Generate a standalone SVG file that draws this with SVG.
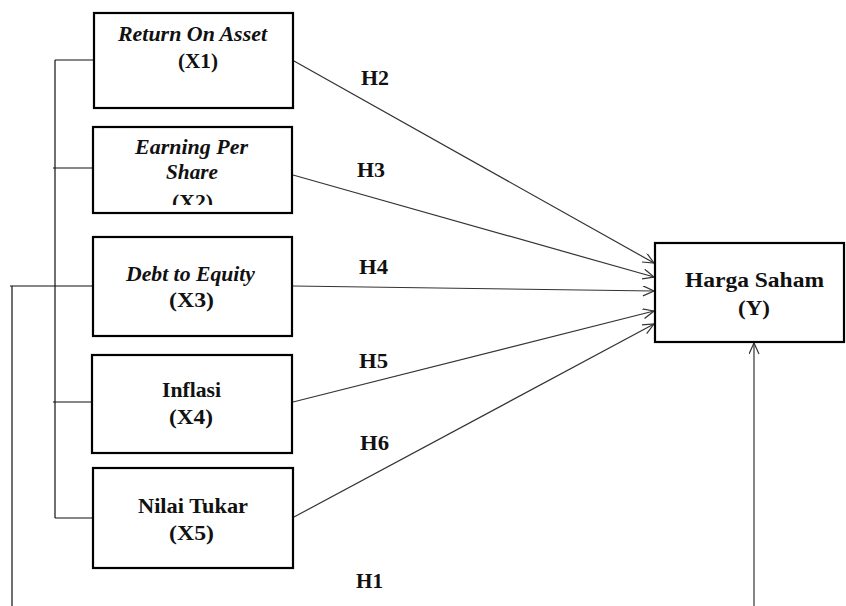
<svg xmlns="http://www.w3.org/2000/svg" width="846" height="606" viewBox="0 0 846 606">
<style>
.box{fill:#fff;stroke:#000;stroke-width:2.2}
.t{font-family:"Liberation Serif","Times New Roman",serif;font-weight:bold;font-size:20px;fill:#111;text-anchor:middle}
.i{font-style:italic}
.h{font-family:"Liberation Serif","Times New Roman",serif;font-weight:bold;font-size:21px;fill:#111}
.br{fill:none;stroke:#111;stroke-width:1.2}
.ar{fill:none;stroke:#333;stroke-width:1.2}
</style>
<defs>
<marker id="arr" markerUnits="userSpaceOnUse" markerWidth="14" markerHeight="12" refX="12" refY="5" orient="auto">
<path d="M1,0 L12,5 L1,10" fill="none" stroke="#333" stroke-width="1.2"/>
</marker>
<clipPath id="c2"><rect x="93" y="127" width="199" height="78"/></clipPath>
</defs>
<rect width="846" height="606" fill="#fff"/>
<g id="connectors">
<path class="br" d="M55,60 V518 M55,60 H93 M53,168 H92 M53,402 H92 M55,518 H92 M10,286 H92 M12,286 V606"/>
<line class="ar" x1="754" y1="606" x2="754" y2="343" marker-end="url(#arr)"/>
<line class="ar" x1="294" y1="61" x2="654" y2="263" marker-end="url(#arr)"/>
<line class="ar" x1="293" y1="175" x2="654" y2="277" marker-end="url(#arr)"/>
<line class="ar" x1="293" y1="286" x2="654" y2="291" marker-end="url(#arr)"/>
<line class="ar" x1="293" y1="402" x2="654" y2="311" marker-end="url(#arr)"/>
<line class="ar" x1="294" y1="517" x2="654" y2="324" marker-end="url(#arr)"/>
<text class="h" x="361" y="85" textLength="28" lengthAdjust="spacingAndGlyphs">H2</text>
<text class="h" x="357" y="177" textLength="28" lengthAdjust="spacingAndGlyphs">H3</text>
<text class="h" x="359" y="274" textLength="29" lengthAdjust="spacingAndGlyphs">H4</text>
<text class="h" x="359" y="368" textLength="29" lengthAdjust="spacingAndGlyphs">H5</text>
<text class="h" x="360" y="450" textLength="29" lengthAdjust="spacingAndGlyphs">H6</text>
<text class="h" x="356" y="588" textLength="27" lengthAdjust="spacingAndGlyphs">H1</text>
</g>
<g id="x1">
<rect class="box" x="94" y="13" width="199" height="95"/>
<text class="t i" x="192.5" y="41" textLength="149" lengthAdjust="spacingAndGlyphs">Return On Asset</text>
<text class="t" x="198" y="68" textLength="40" lengthAdjust="spacingAndGlyphs">(X1)</text>
</g>
<g id="x2">
<rect class="box" x="93" y="127" width="199" height="86"/>
<text class="t i" x="191.5" y="154" textLength="113" lengthAdjust="spacingAndGlyphs">Earning Per</text>
<text class="t i" x="192" y="179" textLength="52" lengthAdjust="spacingAndGlyphs">Share</text>
<text class="t" x="192.5" y="209" textLength="41" lengthAdjust="spacingAndGlyphs" clip-path="url(#c2)">(X2)</text>
</g>
<g id="x3">
<rect class="box" x="93" y="237" width="199" height="99"/>
<text class="t i" x="190.5" y="281" textLength="129" lengthAdjust="spacingAndGlyphs">Debt to Equity</text>
<text class="t" x="191.5" y="307" textLength="45" lengthAdjust="spacingAndGlyphs">(X3)</text>
</g>
<g id="x4">
<rect class="box" x="92" y="355" width="200" height="98"/>
<text class="t" x="191.5" y="397" textLength="59" lengthAdjust="spacingAndGlyphs">Inflasi</text>
<text class="t" x="191" y="424" textLength="44" lengthAdjust="spacingAndGlyphs">(X4)</text>
</g>
<g id="x5">
<rect class="box" x="93" y="468" width="200" height="100"/>
<text class="t" x="193" y="513" textLength="110" lengthAdjust="spacingAndGlyphs">Nilai Tukar</text>
<text class="t" x="191.5" y="540" textLength="45" lengthAdjust="spacingAndGlyphs">(X5)</text>
</g>
<g id="y">
<rect class="box" x="655" y="243" width="189" height="99"/>
<text class="t" x="754.5" y="287" textLength="139" lengthAdjust="spacingAndGlyphs">Harga Saham</text>
<text class="t" x="754" y="315" textLength="32" lengthAdjust="spacingAndGlyphs">(Y)</text>
</g>
</svg>
